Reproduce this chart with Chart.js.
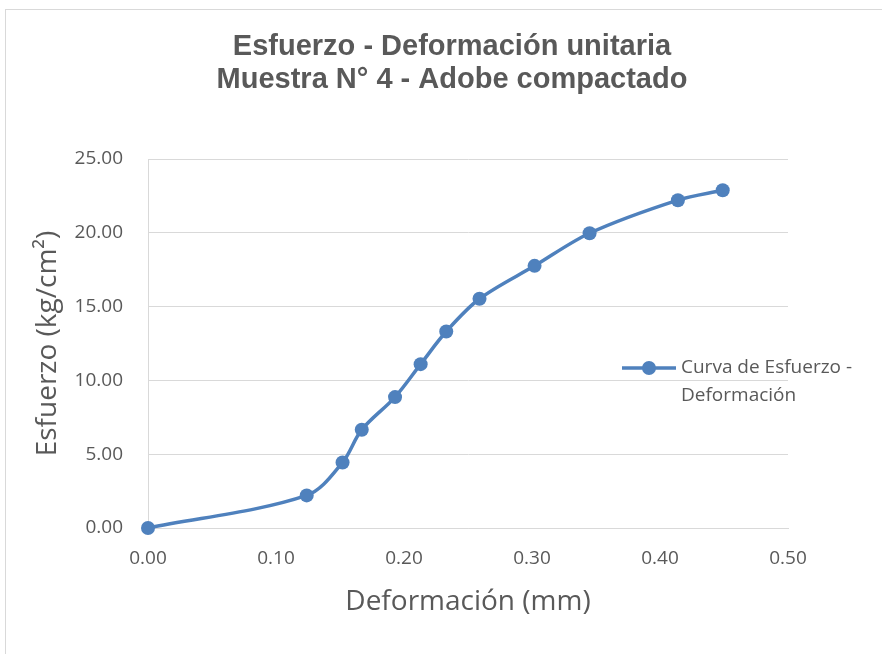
<!DOCTYPE html>
<html>
<head>
<meta charset="utf-8">
<script src="https://cdn.jsdelivr.net/npm/chart.js@4.4.1/dist/chart.umd.min.js"></script>
<style>
    body { margin: 0; background: #fff; }
    #marco { position: absolute; left: 5px; top: 9px; width: 900px; height: 700px; border: 1px solid #d9d9d9; }
    #wrap { position: absolute; left: 0; top: 0; width: 882px; height: 654px; }
</style>
</head>
<body>
<div id="marco"></div>
<div id="wrap"><canvas id="myChart" width="882" height="654"></canvas></div>
<script>
// datos
var deformacion = [0, 0.124, 0.152, 0.167, 0.193, 0.213, 0.233, 0.259, 0.302, 0.345, 0.414, 0.449];
var esfuerzo = [0, 2.21, 4.44, 6.66, 8.87, 11.10, 13.31, 15.53, 17.76, 19.97, 22.21, 22.88];
var titulo = ['Esfuerzo - Deformación unitaria', 'Muestra N° 4 - Adobe compactado'];
var serie = 'Curva de Esfuerzo - Deformación';
var leyenda = ['Curva de Esfuerzo -', 'Deformación'];

var gris = '#595959';
var azul = '#4F81BD';

let puntos = [];
for (let i = 0; i < deformacion.length; i++) {
    puntos.push({x: deformacion[i], y: esfuerzo[i]});
}

// titulo centrado sobre todo el grafico (no solo el area de datos)
var tituloPlugin = {
    id: 'tituloExcel',
    afterDraw: function (chart) {
        let ctx = chart.ctx;
        ctx.save();
        ctx.fillStyle = gris;
        ctx.font = 'bold 29px "Liberation Sans", Arial';
        ctx.textAlign = 'center';
        ctx.textBaseline = 'middle';
        ctx.fillText(titulo[0], 452, 47);
        ctx.fillText(titulo[1], 452, 80);
        ctx.restore();
    }
};

// leyenda a la derecha, en dos lineas como en Excel
var leyendaPlugin = {
    id: 'leyendaDerecha',
    afterDraw: function (chart) {
        let ctx = chart.ctx;
        let x0 = 622, y0 = 368;
        ctx.save();
        ctx.strokeStyle = azul;
        ctx.lineWidth = 3.5;
        ctx.beginPath();
        ctx.moveTo(x0, y0);
        ctx.lineTo(x0 + 54, y0);
        ctx.stroke();
        ctx.fillStyle = azul;
        ctx.beginPath();
        ctx.arc(x0 + 27, y0, 7, 0, Math.PI * 2);
        ctx.fill();
        ctx.fillStyle = gris;
        ctx.font = '19px "Open Sans"';
        ctx.textBaseline = 'middle';
        ctx.fillText(leyenda[0], x0 + 59, y0);
        ctx.fillText(leyenda[1], x0 + 59, y0 + 28);
        ctx.restore();
    }
};

var ctx = document.getElementById('myChart').getContext('2d');

var config = {
    type: 'line',
    data: {
        datasets: [{
            label: serie,
            data: puntos,
            borderColor: azul,
            backgroundColor: azul,
            borderWidth: 3.5,
            pointRadius: 7,
            pointHoverRadius: 7,
            pointBorderWidth: 0,
            pointBackgroundColor: azul,
            tension: 0.33,
            fill: false,
            clip: false
        }]
    },
    options: {
        responsive: false,
        animation: false,
        layout: {padding: {left: 27, right: 94, top: 159, bottom: 0}},
        plugins: {
            legend: {display: false},
            tooltip: {enabled: false},
            title: {display: false}
        },
        scales: {
            x: {
                type: 'linear',
                min: 0,
                max: 0.5,
                afterFit: function (s) { s.height = 126; },
                ticks: {
                    stepSize: 0.1,
                    color: gris,
                    padding: 19,
                    font: {family: '"Open Sans"', size: 19},
                    callback: function (v) { return v.toFixed(2); }
                },
                grid: {display: false, drawTicks: false},
                border: {display: true, color: '#d9d9d9', width: 1},
                title: {
                    display: true,
                    text: 'Deformación (mm)',
                    color: gris,
                    font: {family: '"Open Sans"', size: 28},
                    padding: {top: 0, bottom: 35}
                }
            },
            y: {
                min: 0,
                max: 25,
                afterFit: function (s) { s.width = 121; },
                ticks: {
                    stepSize: 5,
                    color: gris,
                    padding: 25,
                    font: {family: '"Open Sans"', size: 19},
                    callback: function (v) { return v.toFixed(2); }
                },
                grid: {color: '#d9d9d9', lineWidth: 1, drawTicks: false},
                border: {display: true, color: '#d9d9d9', width: 1},
                title: {
                    display: true,
                    text: 'Esfuerzo (kg/cm²)',
                    color: gris,
                    font: {family: '"Open Sans"', size: 28},
                    padding: {top: 4, bottom: 0}
                }
            }
        }
    },
    plugins: [tituloPlugin, leyendaPlugin]
};

var myChart = new Chart(ctx, config);
</script>
</body>
</html>
